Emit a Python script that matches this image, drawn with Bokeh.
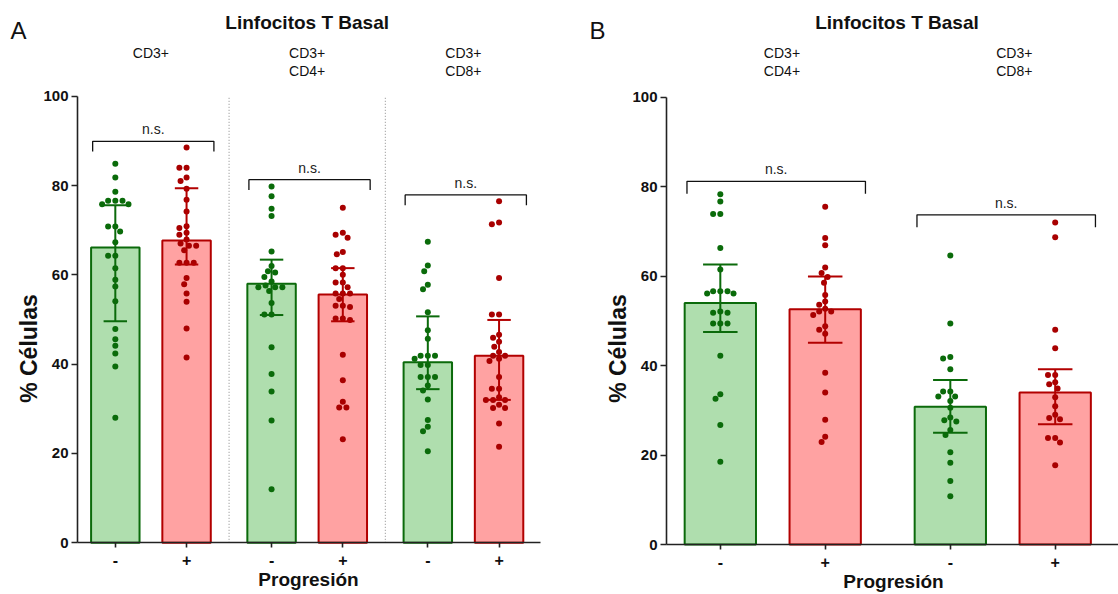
import math
from bokeh.plotting import figure
from bokeh.models import Range1d, FixedTicker
from bokeh.layouts import row
from bokeh.embed import file_html
from bokeh.resources import INLINE
from bokeh.core.properties import value

FONT = "Liberation Sans"

# ---------------- data ----------------
# Panel A: groups CD3+, CD3+CD4+, CD3+CD8+ ; progression - / +
A_groups = ["CD3+", "CD3+\nCD4+", "CD3+\nCD8+"]
A_ticklabels = ["-", "+", "-", "+", "-", "+"]
A_median = [66.1, 67.7, 58.0, 55.6, 40.4, 41.9]
A_q1 = [49.6, 62.3, 51.0, 49.6, 34.4, 32.0]
A_q3 = [75.6, 79.4, 63.4, 61.5, 50.7, 49.9]
A_cd3_neg = [84.9, 81.8, 78.6, 76.6, 76.6, 76.6, 75.8, 75.8, 70.8, 70.8, 69.7, 67.3,
             64.3, 64.3, 61.5, 58.9, 57.4, 54.1, 47.9, 45.6, 44.1, 42.4, 39.5, 28.0]
A_cd3_pos = [88.5, 84.0, 84.0, 81.8, 81.0, 79.3, 76.8, 74.2, 70.9, 70.5, 69.4, 69.0, 67.9,
             67.0, 66.5, 66.5, 65.5, 62.7, 62.7, 62.7, 59.3, 57.9, 55.8, 54.0, 48.0, 41.5]
A_cd4_neg = [79.8, 77.6, 74.8, 73.2, 65.2, 62.0, 60.8, 60.5, 59.5, 58.5, 57.6, 57.2, 57.2,
             57.2, 56.4, 53.7, 51.1, 51.1, 43.8, 37.8, 33.9, 27.4, 12.0]
A_cd4_pos = [75.0, 69.4, 69.0, 68.3, 65.1, 64.6, 61.5, 61.5, 60.0, 58.3, 58.3, 57.2, 55.8,
             55.8, 55.8, 54.6, 53.1, 53.1, 52.8, 50.2, 50.2, 49.9, 42.1, 36.4, 31.6, 30.3,
             30.3, 23.2]
A_cd8_neg = [67.4, 62.1, 60.8, 57.8, 56.8, 51.6, 47.6, 45.7, 41.9, 41.9, 41.9, 41.2, 39.8,
             39.8, 37.1, 37.1, 37.1, 35.2, 34.1, 32.1, 27.5, 26.0, 25.0, 20.5]
A_cd8_pos = [76.5, 71.7, 71.3, 59.3, 51.1, 51.1, 46.6, 45.9, 45.0, 43.9, 42.7, 41.9, 41.9,
             41.2, 40.7, 37.1, 34.5, 34.5, 32.6, 32.0, 32.0, 32.0, 30.9, 30.2, 30.2, 26.7,
             21.5]
A_bracket = [89.9, 81.3, 77.9]

# Panel B: groups CD3+CD4+, CD3+CD8+
B_groups = ["CD3+\nCD4+", "CD3+\nCD8+"]
B_ticklabels = ["-", "+", "-", "+"]
B_median = [54.0, 52.6, 30.8, 34.0]
B_q1 = [47.5, 45.1, 25.0, 26.9]
B_q3 = [62.6, 59.9, 36.8, 39.2]
B_cd4_neg = [78.3, 76.7, 73.9, 73.9, 66.3, 61.5, 56.6, 56.6, 56.6, 56.1, 56.1, 52.1, 51.8,
             51.8, 49.4, 49.4, 49.4, 42.2, 33.6, 32.6, 26.7, 18.5]
B_cd4_pos = [75.5, 68.5, 66.9, 61.9, 60.7, 59.8, 58.5, 55.8, 54.3, 53.6, 52.7, 52.1, 52.1,
             51.3, 48.8, 48.0, 47.1, 38.4, 34.0, 27.9, 24.1, 22.9]
B_cd8_neg = [64.6, 49.4, 41.9, 41.6, 39.2, 34.2, 34.2, 33.1, 33.1, 32.1, 30.6, 28.4, 27.8,
             27.5, 25.6, 24.5, 20.6, 18.3, 14.2, 10.8]
B_cd8_pos = [72.0, 68.7, 48.0, 43.9, 37.9, 37.9, 36.3, 35.8, 34.9, 32.9, 30.9, 29.0, 28.3,
             28.0, 23.8, 23.8, 22.8, 17.7]
B_bracket = [81.2, 73.7]

y_ticks = [0, 20, 40, 60, 80, 100]
title_text = "Linfocitos T Basal"
ylabel = "% Células"
xlabel = "Progresión"

# ---------------- styles ----------------
G_FILL, G_LINE, G_DOT = "#afdeae", "#0b6a0b", "#0a6b0a"
R_FILL, R_LINE, R_DOT = "#ffa2a2", "#b20000", "#a80000"
OFF = 0.228
BAR_W = 0.31
CAP = 0.075
INK = "#111111"


def swarm(vals, center, sx, sy, d=6.4, step=1.2):
    placed = []
    out = []
    for v in vals:
        py = v * sy
        k = 0
        while True:
            cands = [0.0] if k == 0 else [-k * step, k * step]
            done = False
            for ox in cands:
                if all((ox - qx) ** 2 + (py - qy) ** 2 >= d * d for qx, qy in placed):
                    placed.append((ox, py))
                    out.append(center + ox / sx)
                    done = True
                    break
            if done:
                break
            k += 1
    return out


def make_panel(cfg):
    groups = cfg["groups"]
    ngroups = len(groups)
    sx, sy = cfg["sx"], cfg["sy"]
    ax_x = cfg["axis_x"]          # data x where the y axis sits
    ax_px = cfg["axis_px"]        # its pixel position inside the figure
    y0_px = cfg["y0_px"]          # pixel row of y = 0
    W, H = cfg["width"], cfg["height"]

    # pixel -> data helpers (for text placement)
    def dx(px):
        return ax_x + (px - ax_px) / sx

    def dy(py):
        return (y0_px - py) / sy

    p = figure(width=W, height=H,
               x_range=Range1d(dx(0), dx(W)), y_range=Range1d(dy(H), dy(0)),
               output_backend="svg", toolbar_location=None,
               min_border_left=0, min_border_right=0, min_border_top=0,
               min_border_bottom=0)
    p.outline_line_color = None
    p.xgrid.visible = False
    p.ygrid.visible = False
    p.background_fill_color = "white"
    p.border_fill_color = "white"

    xs = []
    for g in range(ngroups):
        xs += [g - OFF, g + OFF]
    fills = [G_FILL, R_FILL] * ngroups
    lines = [G_LINE, R_LINE] * ngroups
    dots = [G_DOT, R_DOT] * ngroups

    # separators between groups
    for s in cfg["separators"]:
        p.segment(x0=[s], y0=[0], x1=[s], y1=[100], line_color="#8a8a8a",
                  line_dash="1 2", line_width=1)

    p.vbar(x=xs, top=cfg["median"], width=BAR_W, bottom=0, fill_color=fills,
           line_color=lines, line_width=2)

    for i, vals in enumerate(cfg["series"]):
        jx = swarm(vals, xs[i], sx, sy)
        p.scatter(x=jx, y=vals, size=6, fill_color=dots[i], line_color=None)

    # error bars (median with interquartile range)
    q1, q3 = cfg["q1"], cfg["q3"]
    p.segment(x0=xs, y0=q1, x1=xs, y1=q3, line_color=lines, line_width=2)
    p.segment(x0=[x - CAP for x in xs], y0=q1, x1=[x + CAP for x in xs], y1=q1,
              line_color=lines, line_width=2)
    p.segment(x0=[x - CAP for x in xs], y0=q3, x1=[x + CAP for x in xs], y1=q3,
              line_color=lines, line_width=2)

    # significance brackets
    leg = cfg["leg"]
    bx, by = [], []
    for g, yb in enumerate(cfg["brackets"]):
        a, b = g - OFF - BAR_W / 2 + 0.01, g + OFF + BAR_W / 2 + 0.02
        bx.append([a, a, b, b])
        by.append([yb - leg, yb, yb, yb - leg])
    p.multi_line(xs=bx, ys=by, line_color=INK, line_width=1.3)
    p.text(x=[(g + 0.015) for g in range(ngroups)],
           y=[yb + 0.9 for yb in cfg["brackets"]],
           text=["n.s."] * ngroups, text_align="center", text_baseline="bottom",
           text_font=value(FONT), text_font_size="14px", text_color="#222222")

    # title and group headers
    p.text(x=[cfg["title_x"]], y=[dy(21.5)], text=[title_text], text_align="center",
           text_baseline="middle", text_font=value(FONT), text_font_size="19px",
           text_font_style="bold", text_color=INK)
    line1 = [g.split("\n")[0] for g in groups]
    line2 = [g.split("\n")[1] if "\n" in g else "" for g in groups]
    p.text(x=cfg["group_label_x"], y=[dy(52.5)] * ngroups, text=line1,
           text_align="center", text_baseline="middle", text_font=value(FONT),
           text_font_size="14px", text_color=INK)
    p.text(x=cfg["group_label_x"], y=[dy(70)] * ngroups, text=line2,
           text_align="center", text_baseline="middle", text_font=value(FONT),
           text_font_size="14px", text_color=INK)

    # panel letter
    p.text(x=[dx(cfg["letter_px"])], y=[dy(30)], text=[cfg["letter"]],
           text_align="left", text_baseline="middle", text_font=value(FONT),
           text_font_size="24px", text_color=INK)

    # axis titles
    p.text(x=[dx(ax_px - 49)], y=[dy(348)], text=[ylabel], angle=math.pi / 2,
           text_align="center", text_baseline="middle", text_font=value(FONT),
           text_font_size="23px", text_font_style="bold", text_color=INK)
    p.text(x=[dx(cfg["xlabel_px"])], y=[dy(y0_px + 37)], text=[xlabel],
           text_align="center", text_baseline="middle", text_font=value(FONT),
           text_font_size="19px", text_font_style="bold", text_color=INK)

    # axes, fixed at the data origin
    p.yaxis.fixed_location = ax_x
    p.yaxis.bounds = (0, 100)
    p.yaxis.ticker = FixedTicker(ticks=y_ticks)
    p.yaxis.minor_tick_line_color = None
    p.yaxis.major_tick_in = 0
    p.yaxis.major_tick_out = 6
    p.yaxis.major_label_standoff = 3

    p.xaxis.fixed_location = 0
    p.xaxis.bounds = (ax_x, cfg["x_end"])
    p.xaxis.ticker = FixedTicker(ticks=xs)
    p.xaxis.major_label_overrides = {x: t for x, t in zip(xs, cfg["ticklabels"])}
    p.xaxis.minor_tick_line_color = None
    p.xaxis.major_tick_in = 0
    p.xaxis.major_tick_out = 5
    p.xaxis.major_label_standoff = 6

    for ax in (p.xaxis, p.yaxis):
        ax.axis_line_color = "#222222"
        ax.axis_line_width = 1.6
        ax.major_tick_line_color = "#222222"
        ax.major_tick_line_width = 1.6
        ax.major_label_text_font = FONT
        ax.major_label_text_font_size = "15px"
        ax.major_label_text_font_style = "bold"
        ax.major_label_text_color = INK
    p.xaxis.major_label_text_font_size = "16px"
    return p


pA = make_panel(dict(
    letter="A", groups=A_groups, ticklabels=A_ticklabels, median=A_median, q1=A_q1,
    q3=A_q3, series=[A_cd3_neg, A_cd3_pos, A_cd4_neg, A_cd4_pos, A_cd8_neg, A_cd8_pos],
    brackets=A_bracket, width=559, height=594, sx=156.25, sy=4.466,
    axis_x=-0.47, axis_px=77, y0_px=542.3, x_end=2.49, leg=2.3,
    title_x=1.0, group_label_x=[0.0, 1.0, 2.0], letter_px=10, xlabel_px=308,
    separators=[0.5, 1.5]))
pB = make_panel(dict(
    letter="B", groups=B_groups, ticklabels=B_ticklabels, median=B_median, q1=B_q1,
    q3=B_q3, series=[B_cd4_neg, B_cd4_pos, B_cd8_neg, B_cd8_pos],
    brackets=B_bracket, width=559, height=594, sx=230.0, sy=4.473,
    axis_x=-0.462, axis_px=107, y0_px=544.0, x_end=1.503, leg=2.8,
    title_x=0.54, group_label_x=[0.04, 1.05], letter_px=30, xlabel_px=334,
    separators=[]))

layout = row(pA, pB)
open("out.html", "w").write(file_html(layout, INLINE))
